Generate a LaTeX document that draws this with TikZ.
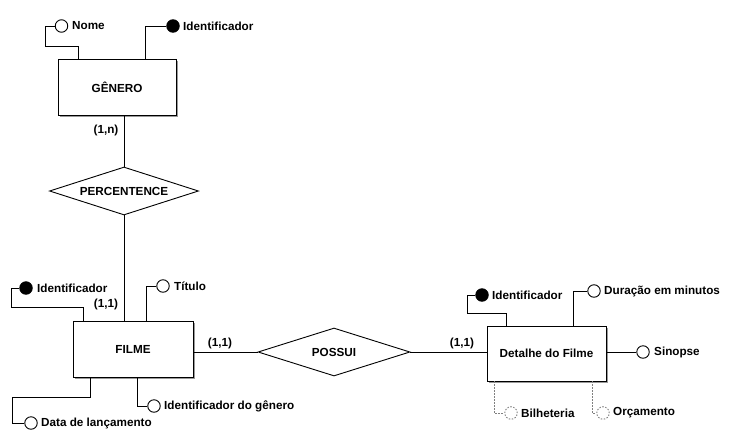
\documentclass[tikz,border=0pt]{standalone}
\usepackage{fontspec}
\setmainfont{Liberation Sans}
\usetikzlibrary{shapes.geometric,shadows}
\begin{document}
\begin{tikzpicture}[x=1pt,y=-1pt,
  every node/.style={font=\fontsize{11.7}{13}\selectfont\bfseries},
  conn/.style={line width=0.9pt},
  optconn/.style={line width=0.8pt,gray,dash pattern=on 1.5pt off 1.5pt},
  entity/.style={draw,line width=0.9pt,fill=white,rectangle,inner sep=0pt,
    general shadow={fill=gray!80,shadow xshift=2pt,shadow yshift=-2pt}},
  rel/.style={draw,line width=0.9pt,fill=white,diamond,inner sep=0pt,aspect=3.1},
  attr/.style={draw,line width=0.9pt,circle,fill=white,minimum size=12.5pt,inner sep=0pt},
  keyattr/.style={attr,fill=black},
  optattr/.style={attr,draw=gray,dash pattern=on 1.5pt off 1.5pt},
  lbl/.style={anchor=west,inner sep=0pt},
  card/.style={inner sep=0pt}]
\useasboundingbox (0,0) rectangle (733,434);

% entities
\node[entity,minimum width=118pt,minimum height=56pt] (gen) at (117,87) {GÊNERO};
\node[entity,minimum width=120pt,minimum height=56pt] (filme) at (133,349) {FILME};
\node[entity,minimum width=119pt,minimum height=55pt] (det) at (546.5,353.5) {Detalhe do Filme};

% relationships
\node[rel,minimum width=149pt,minimum height=48pt] (perc) at (124,191) {PERCENTENCE};
\node[rel,minimum width=152pt,minimum height=48pt] (pos) at (334,352) {POSSUI};

\draw[conn] (perc.north) -- (perc.north |- gen.south);
\draw[conn] (perc.south) -- (perc.south |- filme.north);
\draw[conn] (pos.west) -- (pos.west -| filme.east);
\draw[conn] (pos.east) -- (pos.east -| det.west);

% cardinalities
\node[card] (c1) at (106,130) {(1,n)};
\node[card] (c2) at (106,304) {(1,1)};
\node[card] (c3) at (220,343) {(1,1)};
\node[card] (c4) at (462,343) {(1,1)};

% GENERO attributes
\node[attr] (nome) at (61.5,26) {};
\node[lbl] (nomel) at (72,26) {Nome};
\draw[conn] (nome.west) -| (45,46) -| (gen.north -| 78,0);
\node[keyattr] (genid) at (173,26) {};
\node[lbl] (genidl) at (183,26) {Identificador};
\draw[conn] (genid.west) -| (gen.north -| 145,0);

% FILME attributes
\node[keyattr] (fid) at (26,288) {};
\node[lbl] (fidl) at (37,288) {Identificador};
\draw[conn] (fid.west) -| (11,307) -| (filme.north -| 83,0);
\node[attr] (tit) at (163,286) {};
\node[lbl] (titl) at (174,286) {Título};
\draw[conn] (tit.west) -| (filme.north -| 146,0);
\node[attr] (data) at (31,423) {};
\node[lbl] (datal) at (41,423) {Data de lançamento};
\draw[conn] (filme.south -| 90,0) |- (12,397) |- (data.west);
\node[attr] (idg) at (154,406) {};
\node[lbl] (idgl) at (164,406) {Identificador do gênero};
\draw[conn] (filme.south -| 137,0) |- (idg.west);

% Detalhe attributes
\node[keyattr] (did) at (482,295) {};
\node[lbl] (didl) at (492,295) {Identificador};
\draw[conn] (did.west) -| (467,313) -| (det.north -| 506,0);
\node[attr] (dur) at (594,291) {};
\node[lbl] (durl) at (604,291) {Duração em minutos};
\draw[conn] (dur.west) -| (det.north -| 573,0);
\node[attr] (sin) at (643,352) {};
\node[lbl] (sinl) at (654,352) {Sinopse};
\draw[conn] (det.east |- sin.west) -- (sin.west);
\node[optattr] (bil) at (511,413) {};
\node[lbl] (bill) at (521,413) {Bilheteria};
\draw[optconn] (det.south -| 494,0) |- (bil.west);
\node[optattr] (orc) at (603,413) {};
\node[lbl] (orcl) at (613,413) {Orçamento};
\draw[optconn] (det.south -| 592,0) |- (orc.west);
\end{tikzpicture}
\end{document}
